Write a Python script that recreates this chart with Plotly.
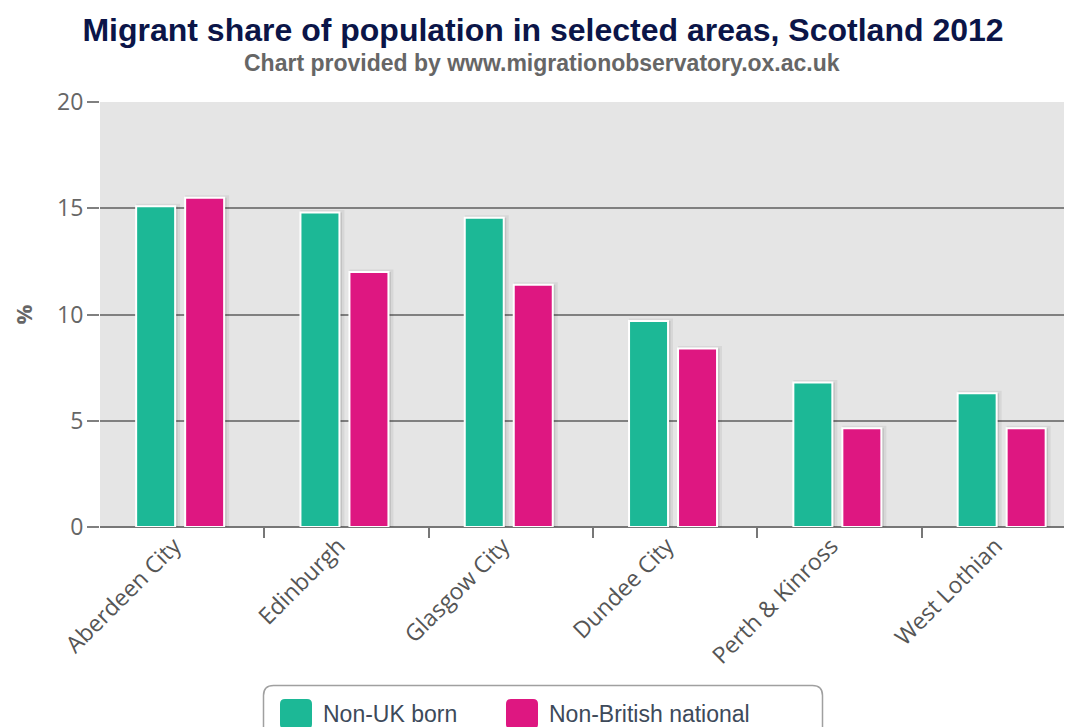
import plotly.graph_objects as go

categories = ["Aberdeen City", "Edinburgh", "Glasgow City", "Dundee City", "Perth & Kinross", "West Lothian"]
non_uk_born = [15.1, 14.8, 14.55, 9.7, 6.8, 6.3]
non_british_national = [15.5, 12.0, 11.4, 8.4, 4.65, 4.65]
series_names = ["Non-UK born", "Non-British national"]
series_colors = ["#1cb896", "#de1781"]
y_ticks = [0, 5, 10, 15, 20]

# ---- layout geometry (page pixels; the page body has an 8px margin) ----
BODY = 8
W, H = 1072, 727
PL, PT, PR, PB = 100, 102, 1072, 527          # plot area on the page
CAT_PX = 164.3                                 # pixels per category
XMAX = -0.5 + (PR - PL) / CAT_PX


def px(x):
    return (x - PL) / (PR - PL)


def py(y):
    return (PB - y) / (PB - PT)


bar_w = 39 / CAT_PX
centers = [-26.5 / CAT_PX, 22.5 / CAT_PX]
shadow_shift = 2.5 / CAT_PX

fig = go.Figure()
# soft shadows behind bars
for vals, c in zip([non_uk_born, non_british_national], centers):
    fig.add_trace(go.Bar(
        x=categories, y=vals, width=bar_w, offset=c - bar_w / 2 + shadow_shift,
        marker=dict(color="rgba(0,0,0,0.10)", line=dict(color="rgba(0,0,0,0.06)", width=5)),
        showlegend=False, hoverinfo="skip",
    ))
for name, vals, col, c in zip(series_names, [non_uk_born, non_british_national], series_colors, centers):
    fig.add_trace(go.Bar(
        x=categories, y=vals, name=name, width=bar_w, offset=c - bar_w / 2,
        marker=dict(color=col, line=dict(color="white", width=2)),
        showlegend=False,
    ))
# empty helper trace so the boundary-tick axis gets drawn
fig.add_trace(go.Scatter(x=[None], y=[None], xaxis="x2", yaxis="y",
                         showlegend=False, hoverinfo="skip"))

# ---- custom legend (box, rounded swatches, labels) ----
shapes = []
annotations = []
bx0, bx1, by0, by1, r = 263.5, 822.5, 685.5, 780, 10
rx, ry = r / (PR - PL), r / (PB - PT)
X0, X1, Y0, Y1 = px(bx0), px(bx1), py(by0), py(by1)
box_path = (f"M {X0 + rx},{Y0} L {X1 - rx},{Y0} Q {X1},{Y0} {X1},{Y0 - ry} "
            f"L {X1},{Y1 + ry} Q {X1},{Y1} {X1 - rx},{Y1} L {X0 + rx},{Y1} "
            f"Q {X0},{Y1} {X0},{Y1 + ry} L {X0},{Y0 - ry} Q {X0},{Y0} {X0 + rx},{Y0} Z")
shapes.append(dict(type="path", path=box_path, xref="paper", yref="paper",
                   line=dict(color="#a0a0a0", width=1.5), fillcolor="white", layer="above"))
swatch_left = [280, 506]
for name, col, sx in zip(series_names, series_colors, swatch_left):
    sw, sh, sr = 32, 30, 5
    srx, sry = sr / (PR - PL), sr / (PB - PT)
    a0, a1, b0, b1 = px(sx), px(sx + sw), py(699), py(699 + sh)
    p = (f"M {a0 + srx},{b0} L {a1 - srx},{b0} Q {a1},{b0} {a1},{b0 - sry} "
         f"L {a1},{b1 + sry} Q {a1},{b1} {a1 - srx},{b1} L {a0 + srx},{b1} "
         f"Q {a0},{b1} {a0},{b1 + sry} L {a0},{b0 - sry} Q {a0},{b0} {a0 + srx},{b0} Z")
    shapes.append(dict(type="path", path=p, xref="paper", yref="paper",
                       line=dict(width=0), fillcolor=col, layer="above"))
    annotations.append(dict(
        text=name, xref="paper", yref="paper", x=px(sx + sw + 9), y=py(714),
        xanchor="left", yanchor="middle", showarrow=False,
        font=dict(family="Liberation Sans, Arial, sans-serif", size=23, color="#3d4a5a"),
    ))

annotations.append(dict(
    text="<b>Chart provided by www.migrationobservatory.ox.ac.uk</b>",
    xref="paper", yref="paper",
    x=px(542), y=py(63),
    xanchor="center", yanchor="middle", showarrow=False,
    font=dict(family="Liberation Sans, Arial, sans-serif", size=23, color="#666666"),
))

fig.update_layout(
    template="none",
    width=W - BODY, height=H - BODY,
    margin=dict(l=PL - BODY, r=W - PR, t=PT - BODY, b=H - PB, pad=0),
    paper_bgcolor="white",
    plot_bgcolor="#e5e5e5",
    barmode="overlay",
    showlegend=False,
    title=dict(
        text="Migrant share of population in selected areas, Scotland 2012",
        font=dict(family="Liberation Sans, Arial, sans-serif", size=32, color="#0b1548", weight="bold"),
        x=(543 - BODY) / (W - BODY), xref="container", xanchor="center",
        y=1 - (30 - BODY) / (H - BODY), yref="container", yanchor="middle",
    ),
    shapes=shapes,
    annotations=annotations,
    xaxis=dict(
        range=[-0.5, XMAX],
        tickangle=-45, ticks="", showline=False, showgrid=False, zeroline=False,
        automargin=False,
        ticklabelshift=-8,
        tickfont=dict(family="Open Sans, sans-serif", size=23, color="#555555"),
    ),
    xaxis2=dict(
        type="linear", overlaying="x", anchor="y", side="bottom",
        range=[-0.5, XMAX],
        tickmode="array", tickvals=[0.5, 1.5, 2.5, 3.5, 4.5],
        ticks="outside", ticklen=10, tickwidth=2, tickcolor="#777777",
        showticklabels=False, showgrid=False, zeroline=False, showline=False,
        automargin=False,
    ),
    yaxis=dict(
        range=[0, 20],
        tickmode="array", tickvals=y_ticks,
        ticks="outside", ticklen=12, tickwidth=2, tickcolor="#808080",
        showgrid=True, gridcolor="#808080", gridwidth=2,
        zeroline=True, zerolinecolor="#777777", zerolinewidth=2,
        showline=False,
        automargin=False,
        ticklabelstandoff=-1,
        tickfont=dict(family="Open Sans, sans-serif", size=23, color="#666666"),
        title=dict(text="<b>%</b>", font=dict(family="Open Sans, sans-serif", size=22, color="#666666"),
                   standoff=23),
    ),
)

fig.write_html("out.html")
